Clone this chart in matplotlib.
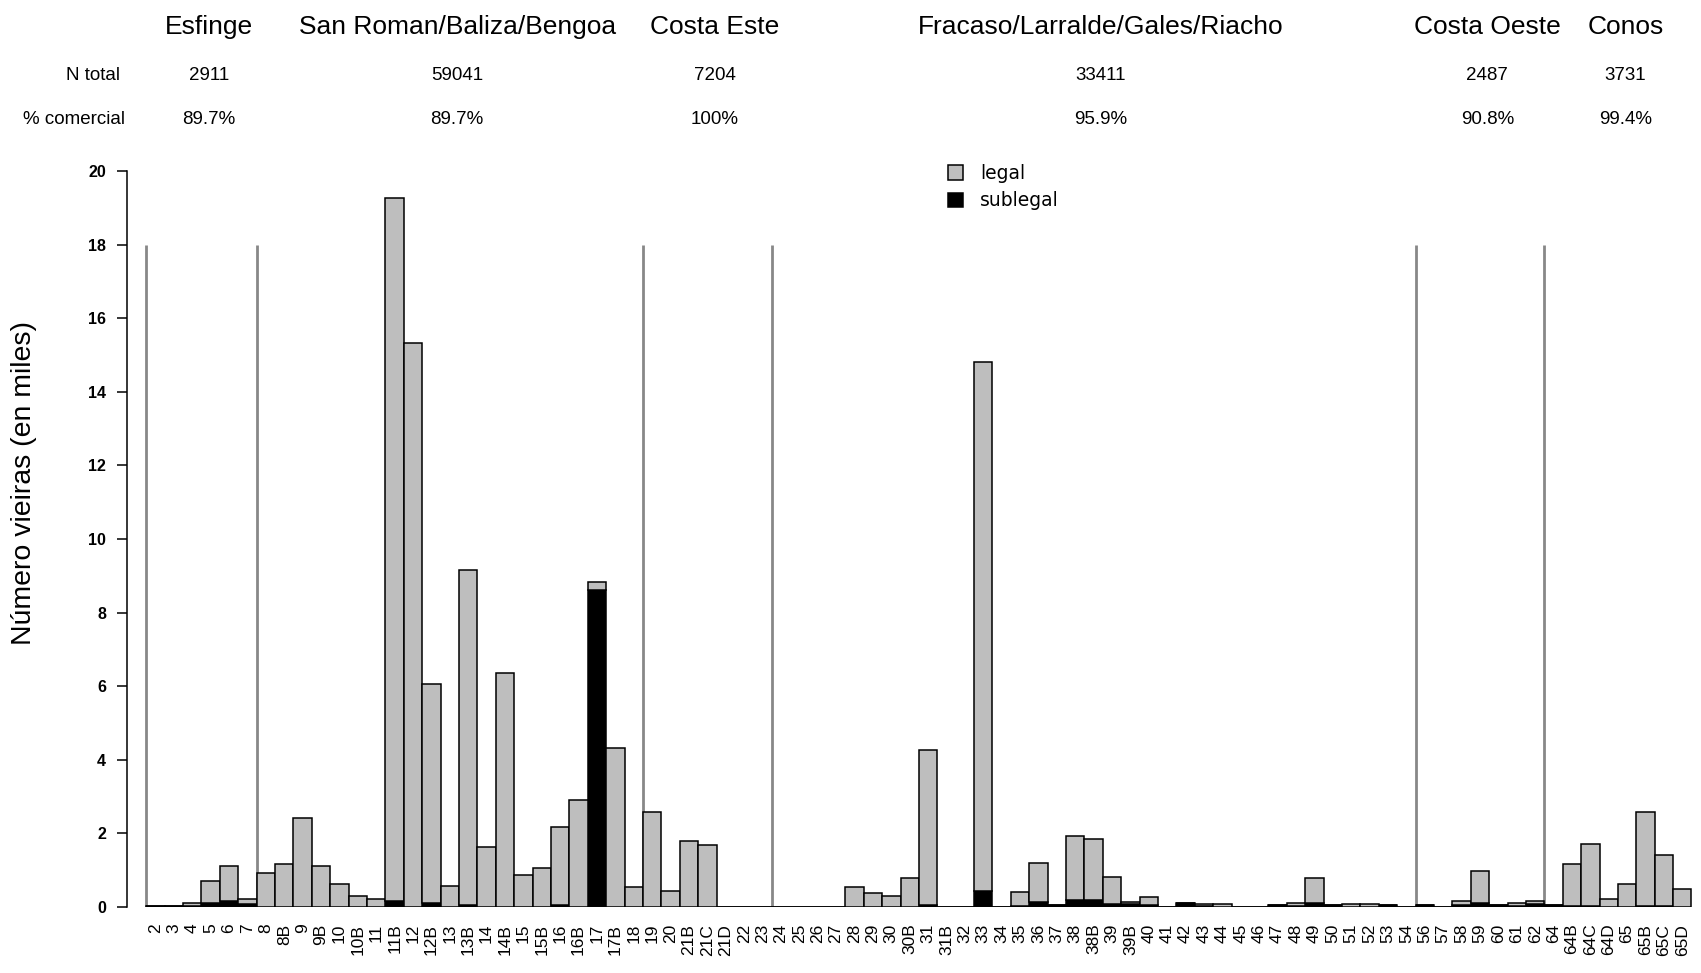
import numpy as np
import matplotlib
matplotlib.use("Agg")
import matplotlib.pyplot as plt
import matplotlib.transforms as mtrans
from matplotlib.patches import Patch

plt.rcParams['font.family'] = ['Liberation Sans', 'DejaVu Sans']

# zone names and header rows
groups = ['Esfinge', 'San Roman/Baliza/Bengoa', 'Costa Este',
          'Fracaso/Larralde/Gales/Riacho', 'Costa Oeste', 'Conos']
n_total = ['2911', '59041', '7204', '33411', '2487', '3731']
pct_comercial = ['89.7%', '89.7%', '100%', '95.9%', '90.8%', '99.4%']
group_sizes = [6, 21, 7, 35, 7, 8]

labels = ['2', '3', '4', '5', '6', '7',
          '8', '8B', '9', '9B', '10', '10B', '11', '11B', '12', '12B', '13', '13B',
          '14', '14B', '15', '15B', '16', '16B', '17', '17B', '18',
          '19', '20', '21B', '21C', '21D', '22', '23',
          '24', '25', '26', '27', '28', '29', '30', '30B', '31', '31B', '32', '33',
          '34', '35', '36', '37', '38', '38B', '39', '39B', '40', '41', '42', '43',
          '44', '45', '46', '47', '48', '49', '50', '51', '52', '53', '54',
          '56', '57', '58', '59', '60', '61', '62',
          '64', '64B', '64C', '64D', '65', '65B', '65C', '65D']

sublegal = [0.04, 0.04, 0.02, 0.10, 0.15, 0.07,
            0, 0, 0, 0, 0, 0, 0, 0.15, 0, 0.10, 0, 0.05,
            0, 0, 0, 0, 0.05, 0, 8.62, 0, 0,
            0, 0, 0, 0, 0, 0, 0,
            0, 0, 0, 0, 0, 0, 0, 0, 0.05, 0, 0, 0.43,
            0, 0.04, 0.13, 0.05, 0.18, 0.18, 0.08, 0.07, 0.05, 0, 0.10, 0.02,
            0.01, 0, 0, 0.05, 0.04, 0.10, 0.05, 0.01, 0.01, 0.05, 0,
            0.05, 0, 0.06, 0.10, 0.05, 0.03, 0.08,
            0.05, 0.04, 0.03, 0.01, 0.01, 0.03, 0.02, 0.01]

legal = [0, 0, 0.09, 0.60, 0.97, 0.14,
         0.93, 1.17, 2.42, 1.12, 0.63, 0.29, 0.21, 19.12, 15.33, 5.95, 0.57, 9.12,
         1.64, 6.36, 0.87, 1.06, 2.12, 2.90, 0.20, 4.32, 0.53,
         2.57, 0.43, 1.79, 1.68, 0, 0, 0,
         0, 0, 0, 0, 0.53, 0.38, 0.29, 0.78, 4.22, 0, 0, 14.39,
         0, 0.37, 1.06, 0, 1.75, 1.68, 0.74, 0.06, 0.23, 0, 0.01, 0.07,
         0.08, 0, 0, 0, 0.07, 0.68, 0, 0.08, 0.08, 0, 0,
         0, 0, 0.09, 0.87, 0, 0.07, 0.07,
         0, 1.13, 1.67, 0.20, 0.62, 2.54, 1.38, 0.47]

W, H = 1701, 973
fig = plt.figure(figsize=(W / 100, H / 100), dpi=100)
ax = fig.add_axes([127 / W, 66 / H, 1570 / W, 21 * 36.8 / H])

x = np.arange(len(labels))
sub = np.array(sublegal)
leg = np.array(legal)
ax.bar(x, sub, width=1, align='edge', color='black', edgecolor='black', linewidth=1.1)
ax.bar(x, leg, width=1, align='edge', bottom=sub, color='#bebebe',
       edgecolor='black', linewidth=1.1)

# zone separators
bounds = np.concatenate([[0], np.cumsum(group_sizes)])
ax.vlines(bounds[:-1], 0, 18, color='#888888', linewidth=2.0, zorder=0.5)

ax.set_xlim(-1.05, 84.3)
ax.set_ylim(0, 21)
for s in ['top', 'right', 'bottom']:
    ax.spines[s].set_visible(False)
ax.spines['left'].set_bounds(0, 20)
ax.spines['left'].set_linewidth(1.1)
ax.set_yticks(np.arange(0, 21, 2))
ax.tick_params(axis='y', length=7, width=1.1, pad=8, labelsize=11.5)
for t in ax.get_yticklabels():
    t.set_fontweight('bold')
ax.set_xticks(x + 0.5)
ax.set_xticklabels(labels, rotation=90, fontsize=12.5)
ax.tick_params(axis='x', length=0, pad=12)

fig.text(24 / W, 1 - 483 / H, 'Número vieiras (en miles)', rotation=90,
         ha='center', va='center', fontsize=20.5)

# header rows above each zone
trans = mtrans.blended_transform_factory(ax.transData, fig.transFigure)
centers = (bounds[:-1] + bounds[1:]) / 2 + 0.4
for c, g, n, p in zip(centers, groups, n_total, pct_comercial):
    ax.text(c, 1 - 27 / H, g, transform=trans, ha='center', va='center', fontsize=19)
    ax.text(c, 1 - 76 / H, n, transform=trans, ha='center', va='center', fontsize=13.5)
    ax.text(c, 1 - 120 / H, p, transform=trans, ha='center', va='center', fontsize=13.5)
fig.text(120 / W, 1 - 76 / H, 'N total', ha='right', va='center', fontsize=13.5)
fig.text(125 / W, 1 - 120 / H, '% comercial', ha='right', va='center', fontsize=13.5)

handles = [Patch(facecolor='#bebebe', edgecolor='black', linewidth=1.1),
           Patch(facecolor='black', edgecolor='black', linewidth=1.1)]
ax.legend(handles, ['legal', 'sublegal'], loc='upper left',
          bbox_to_anchor=(948 / W, 1 - 164 / H), bbox_transform=fig.transFigure,
          frameon=False, borderaxespad=0, borderpad=0, handlelength=0.8,
          handleheight=0.8, handletextpad=0.9, labelspacing=0.45,
          prop={'family': 'DejaVu Sans', 'size': 13.5})

fig.savefig('out.png', dpi=100)
